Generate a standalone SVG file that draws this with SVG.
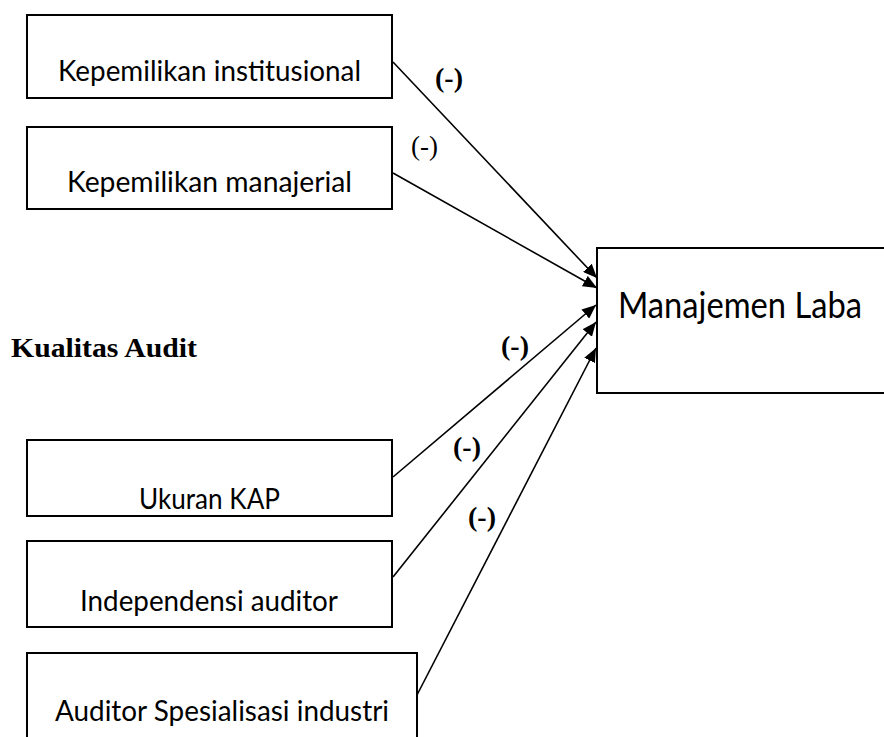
<svg xmlns="http://www.w3.org/2000/svg" width="884" height="737" viewBox="0 0 884 737">
<style>
.box{fill:#fff;stroke:#000;stroke-width:2}
.t{font-family:Lato,"Open Sans",sans-serif;font-size:29px;fill:#000}
.big{font-family:Lato,"Open Sans",sans-serif;font-size:36px;fill:#000}
.lb{font-family:"Liberation Serif",serif;font-size:28px;font-weight:bold;fill:#000}
.ln{font-family:"Liberation Serif",serif;font-size:27px;fill:#000}
.c{stroke:#000;stroke-width:1.6;fill:none;marker-end:url(#ah)}
</style>
<defs>
<marker id="ah" viewBox="0 0 14 12" refX="14" refY="6" markerWidth="14" markerHeight="12" markerUnits="userSpaceOnUse" orient="auto">
<path d="M0,0 L14,6 L0,12 z" fill="#000"/>
</marker>
</defs>
<rect width="884" height="737" fill="#fff"/>
<g id="n1"><rect class="box" x="27" y="15" width="365" height="83"/><text class="t" x="58" y="81" textLength="303" lengthAdjust="spacingAndGlyphs">Kepemilikan institusional</text></g>
<g id="n2"><rect class="box" x="27" y="127" width="365" height="82"/><text class="t" x="67" y="192" textLength="285" lengthAdjust="spacingAndGlyphs">Kepemilikan manajerial</text></g>
<g id="n3"><rect class="box" x="27" y="440" width="365" height="76"/><text class="t" x="139" y="509" textLength="141" lengthAdjust="spacingAndGlyphs">Ukuran KAP</text></g>
<g id="n4"><rect class="box" x="27" y="541" width="365" height="86"/><text class="t" x="80" y="611" textLength="258" lengthAdjust="spacingAndGlyphs">Independensi auditor</text></g>
<g id="n5"><rect class="box" x="27" y="653" width="390" height="100"/><text class="t" x="55" y="721" textLength="334" lengthAdjust="spacingAndGlyphs">Auditor Spesialisasi industri</text></g>
<g id="n6"><rect class="box" x="597" y="248" width="300" height="145"/><text class="big" x="618" y="318" textLength="244" lengthAdjust="spacingAndGlyphs">Manajemen Laba</text></g>
<g id="kualitas"><text class="lb" x="11" y="357" font-size="30" textLength="186" lengthAdjust="spacingAndGlyphs">Kualitas Audit</text></g>
<g id="connectors">
<line class="c" x1="393" y1="62" x2="597" y2="278"/>
<line class="c" x1="393" y1="173" x2="597" y2="288"/>
<line class="c" x1="393" y1="477" x2="596" y2="305"/>
<line class="c" x1="393" y1="577" x2="596" y2="322"/>
<line class="c" x1="417" y1="695" x2="596" y2="348"/>
</g>
<g id="labels">
<text class="lb" x="435" y="87">(-)</text>
<text class="ln" x="411" y="155">(-)</text>
<text class="lb" x="501" y="355">(-)</text>
<text class="lb" x="453" y="456">(-)</text>
<text class="lb" x="468" y="526">(-)</text>
</g>
</svg>
